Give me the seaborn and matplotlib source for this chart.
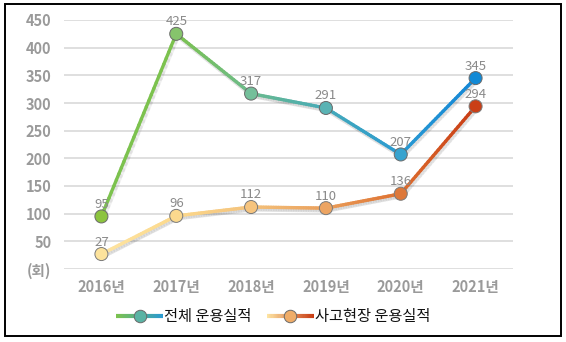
import numpy as np
import pandas as pd
import matplotlib
matplotlib.use("Agg")
import matplotlib.pyplot as plt
import seaborn as sns
from matplotlib.collections import LineCollection
from matplotlib.colors import LinearSegmentedColormap
from matplotlib.legend_handler import HandlerBase
from matplotlib.lines import Line2D
from matplotlib.patches import Rectangle

# ---- data ----
years = ["2016년", "2017년", "2018년", "2019년", "2020년", "2021년"]
total_ops = [95, 425, 317, 291, 207, 345]
accident_ops = [27, 96, 112, 110, 136, 294]
series_names = ["전체 운용실적", "사고현장 운용실적"]
y_ticks = [0, 50, 100, 150, 200, 250, 300, 350, 400, 450]
y_tick_labels = ["(회)", "50", "100", "150", "200", "250", "300", "350", "400", "450"]

# ---- styles ----
total_line_cols = ["#7cc24e", "#7cc24e", "#6cbb8c", "#46aab8", "#2a9ad2", "#1487d6"]
acc_line_cols = ["#fde4a2", "#fcd98c", "#f4c27c", "#eaa05c", "#de7030", "#c83c14"]
total_marker_cols = ["#8cc43e", "#86c46c", "#74bf9a", "#5ab3b4", "#37a3cf", "#128ad6"]
acc_marker_cols = ["#fde39c", "#fbd98e", "#f6c47e", "#eca462", "#dd783a", "#ca3f16"]

sns.set_theme(style="white")
plt.rcParams["font.family"] = ["Noto Sans CJK KR", "DejaVu Sans"]

fig = plt.figure(figsize=(5.66, 3.42), dpi=100)
ax = fig.add_axes([64 / 566, 1 - 269 / 342, (513 - 64) / 566, (269 - 20) / 342])

xs = np.arange(len(years))
df = pd.DataFrame({"year": xs, "total": total_ops, "acc": accident_ops})


def gradient_line(ax, x, y, stops, lw=2.4, z=2):
    cmap = LinearSegmentedColormap.from_list(
        "g", list(zip(np.linspace(0, 1, len(stops)), stops)))
    segs, cols = [], []
    n = 30
    xmin, xmax = x[0], x[-1]
    for i in range(len(x) - 1):
        tx = np.linspace(x[i], x[i + 1], n + 1)
        ty = np.linspace(y[i], y[i + 1], n + 1)
        for j in range(n):
            segs.append([(tx[j], ty[j]), (tx[j + 1], ty[j + 1])])
            cols.append(cmap(((tx[j] + tx[j + 1]) / 2 - xmin) / (xmax - xmin)))
    sh = LineCollection([[(a[0] + 0.02, a[1] - 4), (b[0] + 0.02, b[1] - 4)] for a, b in segs],
                        colors="#000000", alpha=0.06, linewidths=lw + 1, zorder=z - 0.5,
                        capstyle="round")
    ax.add_collection(sh)
    lc = LineCollection(segs, colors=cols, linewidths=lw, zorder=z, capstyle="round")
    ax.add_collection(lc)


gradient_line(ax, xs, np.array(accident_ops, float), acc_line_cols)
gradient_line(ax, xs, np.array(total_ops, float), total_line_cols)

sns.scatterplot(data=df, x="year", y="acc", hue="year", palette=acc_marker_cols,
                s=88, edgecolor="#7a7a7a", linewidth=0.7, legend=False, ax=ax, zorder=4)
sns.scatterplot(data=df, x="year", y="total", hue="year", palette=total_marker_cols,
                s=88, edgecolor="#6a6a6a", linewidth=0.7, legend=False, ax=ax, zorder=4)

for i in range(len(years)):
    ax.annotate(str(total_ops[i]), (xs[i], total_ops[i]), xytext=(0, 4),
                textcoords="offset points", ha="center", va="bottom",
                fontsize=9.5, color="#8a8a8a", zorder=5)
    ax.annotate(str(accident_ops[i]), (xs[i], accident_ops[i]), xytext=(0, 4),
                textcoords="offset points", ha="center", va="bottom",
                fontsize=9.5, color="#8a8a8a", zorder=5)

ax.set_xlim(-0.5, 5.5)
ax.set_ylim(0, 450)
ax.set_yticks(y_ticks)
ax.set_yticklabels(y_tick_labels)
ax.set_xticks(xs)
ax.set_xticklabels(years)
ax.set_xlabel("")
ax.set_ylabel("")
ax.grid(axis="y", color="#d9d9d9", linewidth=1.2)
ax.grid(axis="x", visible=False)
ax.set_axisbelow(True)
for s in ax.spines.values():
    s.set_visible(False)
ax.tick_params(axis="both", length=0, labelsize=10.5, labelcolor="#9a9a9a")
ax.tick_params(axis="y", pad=9)
ax.tick_params(axis="x", pad=7)
for lab in ax.get_xticklabels() + ax.get_yticklabels():
    lab.set_fontweight("bold")


class GradHandler(HandlerBase):
    def __init__(self, stops, mcol):
        super().__init__()
        self.stops = stops
        self.mcol = mcol

    def create_artists(self, legend, orig_handle, xdescent, ydescent, width, height,
                       fontsize, trans):
        n = 40
        xx = np.linspace(0, width, n + 1)
        yc = height / 2
        cmap = LinearSegmentedColormap.from_list("h", self.stops)
        segs = [[(xx[j], yc), (xx[j + 1], yc)] for j in range(n)]
        cols = [cmap(j / (n - 1)) for j in range(n)]
        lc = LineCollection(segs, colors=cols, linewidths=3, transform=trans)
        mk = Line2D([width / 2], [yc], marker="o", markersize=9,
                    markerfacecolor=self.mcol, markeredgecolor="#6a6a6a",
                    markeredgewidth=0.7, linestyle="none", transform=trans)
        return [lc, mk]


h1 = Line2D([], [])
h2 = Line2D([], [])
leg = fig.legend([h1, h2], series_names,
                 handler_map={h1: GradHandler(["#7cc24e", "#2a9ad2"], "#5ab3a4"),
                              h2: GradHandler(["#fde4a2", "#c83c14"], "#efac68")},
                 loc="center", bbox_to_anchor=(273 / 566, 1 - 317 / 342), ncol=2,
                 frameon=False, fontsize=11, handlelength=3.1, handletextpad=0.05,
                 columnspacing=1.0)
for t in leg.get_texts():
    t.set_color("#111111")

fig.patches.append(Rectangle((5 / 566, 1 - 336 / 342), (561 - 5) / 566, (336 - 4) / 342,
                             transform=fig.transFigure, fill=False, edgecolor="black",
                             linewidth=1.4, zorder=10))

fig.savefig("out.png", dpi=100)
